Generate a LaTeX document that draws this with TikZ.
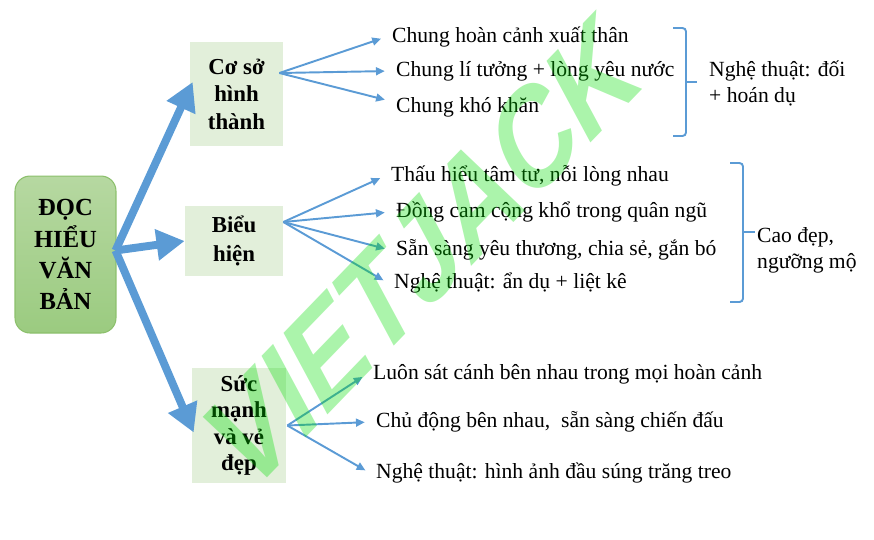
\documentclass[tikz,border=0pt]{standalone}
\usepackage{fontspec}
\setmainfont{Liberation Serif}
\newfontfamily\wmfont{Liberation Sans}
\usetikzlibrary{calc,arrows.meta}
\definecolor{armblue}{HTML}{5B9BD5}
\definecolor{boxgreen}{HTML}{E2EFDA}
\definecolor{roottop}{HTML}{B6D8A1}
\definecolor{rootbot}{HTML}{9BCB80}
\definecolor{rootedge}{HTML}{8CC06C}
\definecolor{wmgreen}{HTML}{00DD00}
\tikzset{
	rootbox/.style={rounded corners=0.3cm, top color=roottop, bottom color=rootbot, draw=rootedge, line width=0.6pt, minimum width=2.02cm, minimum height=3.14cm, align=center, font=\fontsize{14}{17.7}\selectfont\bfseries},
	subbox/.style={fill=boxgreen, align=center, inner sep=0pt, font=\fontsize{13}{15.6}\selectfont\bfseries},
	item/.style={anchor=west, font=\fontsize{12.3}{15}\selectfont},
	note/.style={anchor=west, align=left, font=\fontsize{12.3}{15}\selectfont},
	bigarrow/.style={armblue, line width=4.5pt, -{Triangle[length=16pt,width=17pt]}},
	thinarrow/.style={armblue, line width=1.1pt, shorten >=3pt, -{Triangle[length=5pt,width=4.5pt]}},
	bracket/.style={armblue, line width=1.1pt, rounded corners=2pt}
}

\begin{document}
\begin{tikzpicture}[x=0.02cm, y=-0.02cm]
		%%%%% START %%%%%
		\useasboundingbox (0, 0) rectangle (874, 539);
		
		\node[rootbox] (root) at (65.5, 254.5) {ĐỌC\\HIỂU\\VĂN\\BẢN};
		
		\node[subbox, minimum width=1.86cm, minimum height=2.08cm] (coso) at (236.5, 94) {Cơ sở\\hình\\thành};
		\node[subbox, minimum width=1.96cm, minimum height=1.4cm, font=\fontsize{13}{16.4}\selectfont\bfseries] (bieu) at (234, 241) {Biểu\\hiện};
		\node[subbox, minimum width=1.88cm, minimum height=2.3cm, font=\fontsize{13}{14.9}\selectfont\bfseries] (sucmanh) at (239, 425.5) {Sức\\mạnh\\và vẻ\\đẹp};
		
		\coordinate (rootR) at ($(root.east)+(-1,-4)$);
		\draw[bigarrow] (rootR) -- ($(coso.west)+(3,-12)$);
		\draw[bigarrow] (rootR) -- (bieu.west);
		\draw[bigarrow] (rootR) -- ($(sucmanh.west)+(2,7)$);
		
		\node[item] (hoancanh) at (386, 37) {Chung hoàn cảnh xuất thân};
		\node[item] (lytuong) at (390, 71) {Chung lí tưởng + lòng yêu nước};
		\node[item] (khokhan) at (390, 107) {Chung khó khăn};
		\coordinate (cosoR) at ($(coso.east)+(-4,-21)$);
		\draw[thinarrow] (cosoR) -- (hoancanh.west);
		\draw[thinarrow] (cosoR) -- (lytuong.west);
		\draw[thinarrow] (cosoR) -- ($(khokhan.west)+(0,-6)$);
		
		\node[item] (thauhieu) at (385, 176) {Thấu hiểu tâm tư, nỗi lòng nhau};
		\node[item] (camkho) at (390, 212) {Đồng cam cộng khổ trong quân ngũ};
		\node[item] (sansang) at (390, 250) {Sẵn sàng yêu thương, chia sẻ, gắn bó};
		\node[item] (andu) at (388, 283) {Nghệ thuật: ẩn dụ + liệt kê};
		\coordinate (bieuR) at ($(bieu.east)+(0,-19)$);
		\draw[thinarrow] (bieuR) -- (thauhieu.west);
		\draw[thinarrow] (bieuR) -- (camkho.west);
		\draw[thinarrow] (bieuR) -- (sansang.west);
		\draw[thinarrow] (bieuR) -- (andu.west);
		
		\node[item] (satcanh) at (367, 374) {Luôn sát cánh bên nhau trong mọi hoàn cảnh};
		\node[item] (chudong) at (370, 422) {Chủ động bên nhau, \ sẵn sàng chiến đấu};
		\node[item] (trangtreo) at (370, 473) {Nghệ thuật: hình ảnh đầu súng trăng treo};
		\coordinate (sucR) at ($(sucmanh.east)+(1,0)$);
		\draw[thinarrow] (sucR) -- (satcanh.west);
		\draw[thinarrow] (sucR) -- (chudong.west);
		\draw[thinarrow] (sucR) -- (trangtreo.west);
		
		\draw[bracket] (673, 28) -- (686, 28) -- (686, 136) -- (673, 136);
		\draw[bracket] (686, 82) -- (697, 82);
		\node[note] (doi) at (703, 83.5) {Nghệ thuật: đối\\+ hoán dụ};
		
		\draw[bracket] (730, 163) -- (743, 163) -- (743, 302) -- (730, 302);
		\draw[bracket] (743, 232) -- (755, 232);
		\node[note] (caodep) at (751, 250) {Cao đẹp,\\ngưỡng mộ};
		
		\node[rotate=46, xslant=0.32, xscale=0.9, text=wmgreen, text opacity=0.33, font=\wmfont\bfseries\fontsize{73}{73}\selectfont] (wm) at (423, 253) {VIETJACK};
		%%%%% END %%%%%
\end{tikzpicture}
\end{document}
